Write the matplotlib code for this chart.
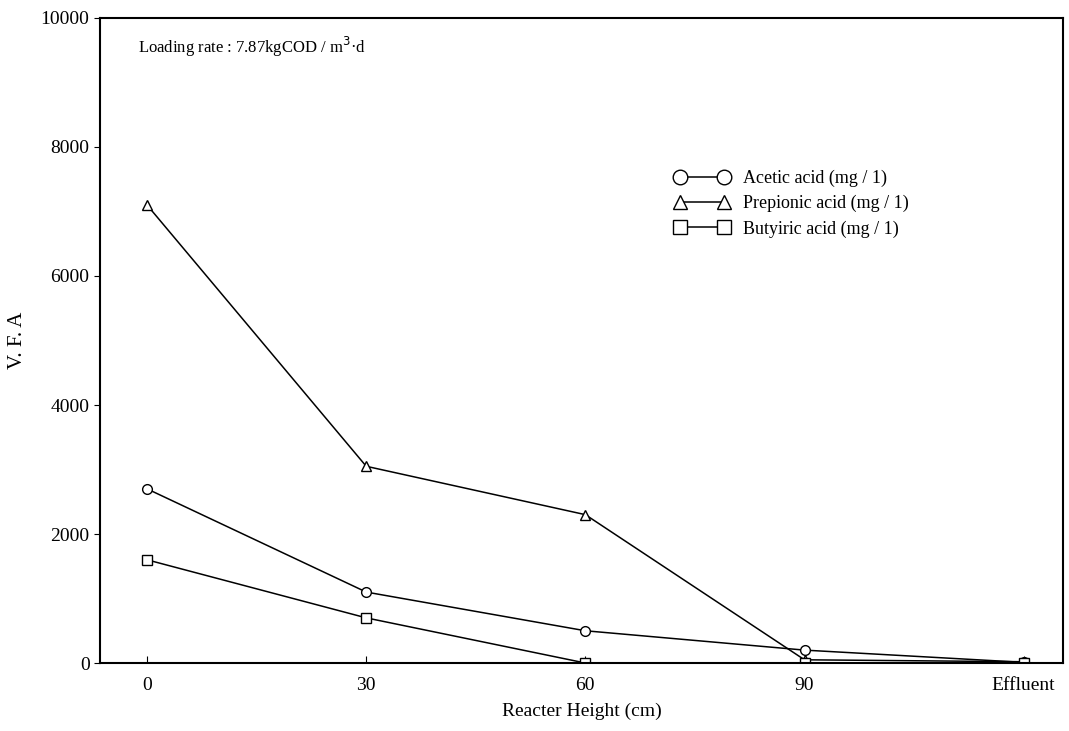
import matplotlib.pyplot as plt

# Reactor positions and measured VFA concentrations (mg/l)
heights = ["0", "30", "60", "90", "Effluent"]
acetic = [2700, 1100, 500, 200, 10]
prepionic = [7100, 3050, 2300, 50, 20]
butyric = [1600, 700, 0, 0, 0]

plt.rcParams["font.family"] = ["Liberation Serif", "DejaVu Serif"]

fig = plt.figure(figsize=(10.69, 7.31), dpi=100)
ax = fig.add_axes([0.0935, 0.093, 0.901, 0.8824])

x = list(range(len(heights)))
ax.plot(x, acetic, color="black", lw=1.1, marker="o", ms=7, mfc="white", mec="black",
        label="Acetic acid (mg / 1)")
ax.plot(x, prepionic, color="black", lw=1.1, marker="^", ms=7, mfc="white", mec="black",
        label="Prepionic acid (mg / 1)")
ax.plot(x, butyric, color="black", lw=1.1, marker="s", ms=7, mfc="white", mec="black",
        label="Butyiric acid (mg / 1)")

ax.set_xlim(-0.215, 4.18)
ax.set_ylim(0, 10000)
ax.set_xticks(x)
ax.set_xticklabels(heights)
ax.set_yticks(range(0, 10001, 2000))
ax.tick_params(axis="x", direction="in", length=5, labelsize=14, pad=10)
ax.tick_params(axis="y", direction="out", length=4, labelsize=14)
for s in ax.spines.values():
    s.set_linewidth(1.5)

ax.set_xlabel("Reacter Height (cm)", fontsize=14, labelpad=6)
ax.set_ylabel("V. F. A", fontsize=15, labelpad=10)

ax.text(0.04, 0.955, "Loading rate : 7.87kgCOD / m$^3$·d", transform=ax.transAxes,
        fontsize=12, va="center")

ax.legend(loc="upper left", bbox_to_anchor=(0.58, 0.79), frameon=False, numpoints=2,
          fontsize=13, handlelength=3.0, labelspacing=0.45, markerscale=1.5)

fig.savefig("out.png", dpi=100)
